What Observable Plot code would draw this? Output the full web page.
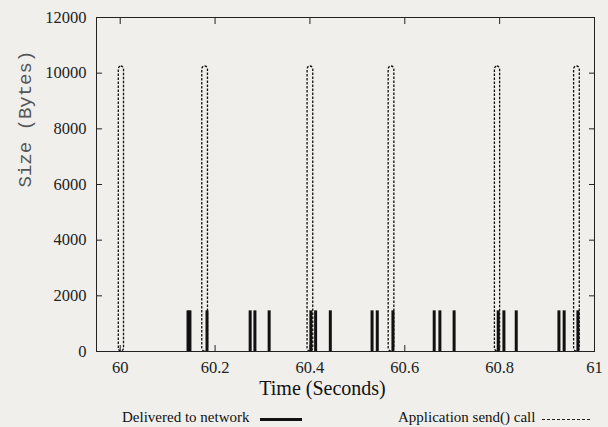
<!DOCTYPE html>
<html><head><meta charset="utf-8">
<script src="https://cdn.jsdelivr.net/npm/d3@7"></script>
<script src="https://cdn.jsdelivr.net/npm/@observablehq/plot@0.6"></script>
<style>
body{margin:0;background:#f0efeb;}
#wrap{position:relative;width:608px;height:427px;background:#f0efeb;}
#legend{position:absolute;left:0;top:405px;width:608px;height:22px;font-family:"Liberation Serif","Times New Roman",Times,serif;font-size:15px;color:#111;}
.lt{position:absolute;top:4px;white-space:nowrap;}
.ls{position:absolute;top:14px;height:0;}
</style></head>
<body><div id="wrap"><div id="chart"></div><div id="legend"></div></div>
<script>
// Application send() calls (seconds) and size
const sendStart = [59.997, 60.173, 60.395, 60.566, 60.790, 60.957];
const sendEnd   = [60.008, 60.185, 60.407, 60.578, 60.801, 60.969];
const sendSize  = [10240, 10240, 10240, 10240, 10240, 10240];
// Packets delivered to network
const deliveredTime = [60.143, 60.147, 60.183, 60.274, 60.284, 60.314, 60.402, 60.412, 60.443,
  60.531, 60.542, 60.575, 60.662, 60.674, 60.704, 60.797, 60.809, 60.835, 60.925, 60.936, 60.965];
const deliveredSize = deliveredTime.map(() => 1460);
const xTicks = [60, 60.2, 60.4, 60.6, 60.8, 61];
const xTickLabels = ["60", "60.2", "60.4", "60.6", "60.8", "61"];
const yTicks = [0, 2000, 4000, 6000, 8000, 10000, 12000];

const sends = sendStart.map((s, i) => ({x1: s, x2: sendEnd[i], y: sendSize[i]}));
const packets = deliveredTime.map((t, i) => ({t, size: deliveredSize[i]}));

const serif = "Liberation Serif, Times New Roman, Times, serif";
const blank = () => "";
const chart = Plot.plot({
  width: 608, height: 405,
  marginLeft: 96, marginRight: 14, marginTop: 17, marginBottom: 54,
  style: {background: "transparent", fontFamily: serif, fontSize: "16px", color: "#222"},
  x: {domain: [59.95, 61], label: null},
  y: {domain: [0, 12000], label: null},
  marks: [
    Plot.ruleX(packets, {x: "t", y1: 0, y2: "size", stroke: "#111", strokeWidth: 3}),
    Plot.rectY(sends, {x1: "x1", x2: "x2", y1: 0, y2: "y", fill: "none", stroke: "#111",
      strokeWidth: 1.3, strokeDasharray: "2.5,1.5", rx: 3}),
    Plot.axisX({ticks: xTicks, tickFormat: (d, i) => xTickLabels[i], tickSize: 0, tickPadding: 10, label: null, fontSize: 16.5, fontFamily: serif, fill: "#222"}),
    Plot.axisX({ticks: xTicks, tickSize: -6, tickFormat: blank, label: null}),
    Plot.axisX({anchor: "top", ticks: xTicks, tickSize: -6, tickFormat: blank, label: null}),
    Plot.axisY({ticks: yTicks, tickFormat: d => String(d), tickSize: 0, tickPadding: 10, label: null, fontSize: 16.5, fontFamily: serif, fill: "#222"}),
    Plot.axisY({ticks: yTicks, tickSize: -6, tickFormat: blank, label: null}),
    Plot.axisY({anchor: "right", ticks: yTicks, tickSize: -6, tickFormat: blank, label: null}),
    Plot.frame({stroke: "#222", strokeWidth: 1}),
    Plot.text(["Time (Seconds)"], {frameAnchor: "bottom", dy: 43, dx: -23, fontSize: 20, fontFamily: serif, fill: "#111"}),
    Plot.text(["Size (Bytes)"], {frameAnchor: "left", dx: -72, dy: 3, rotate: -90, fontSize: 19, fontFamily: "Liberation Mono, Courier New, monospace", fill: "#555"})
  ]
});
document.getElementById("chart").appendChild(chart);

const legendItems = [
  {label: "Delivered to network", textLeft: 122, lineLeft: 260, lineWidth: 42, style: "border-top:3px solid #111;margin-top:-1px"},
  {label: "Application send() call", textLeft: 398, lineLeft: 542, lineWidth: 48, style: "border-top:1px dashed #222"}
];
const lg = document.getElementById("legend");
for (const it of legendItems) {
  const t = document.createElement("div");
  t.className = "lt"; t.style.left = it.textLeft + "px"; t.textContent = it.label;
  lg.appendChild(t);
  const l = document.createElement("div");
  l.className = "ls"; l.style.left = it.lineLeft + "px"; l.style.width = it.lineWidth + "px";
  l.setAttribute("style", l.getAttribute("style") + ";" + it.style);
  lg.appendChild(l);
}
</script></body></html>
